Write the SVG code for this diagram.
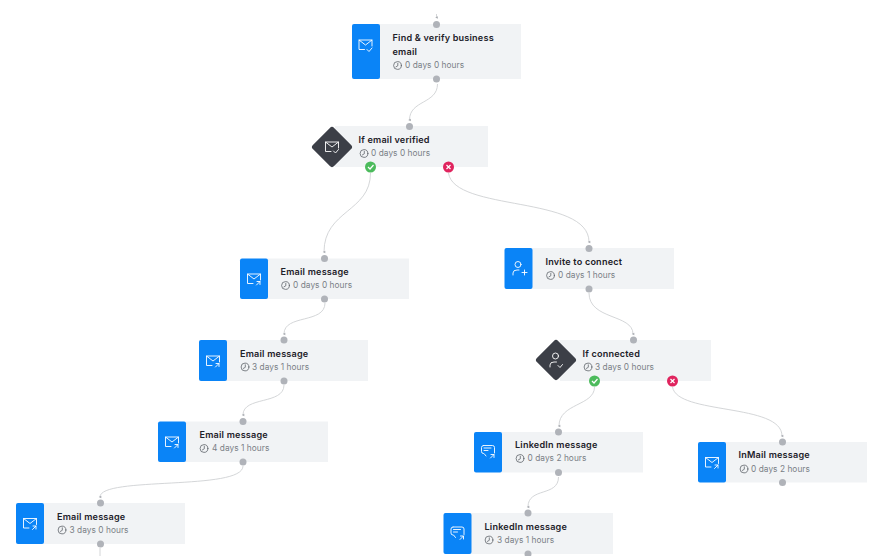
<svg xmlns="http://www.w3.org/2000/svg" xmlns:xlink="http://www.w3.org/1999/xlink" width="892" height="556" viewBox="0 0 892 556">
<style>
text{font-family:"Inter","Liberation Sans",sans-serif}
.bg{fill:#f1f3f5}
.bl{fill:#0a84f7}
.t{font-size:9.1px;font-weight:600;fill:#1d2129;letter-spacing:.2px}
.s{font-size:8.3px;fill:#7a7f86;letter-spacing:.05px}
.d{fill:#b0b3b9}
.c{fill:none;stroke:#cfd1d4;stroke-width:.9}
.i{fill:none;stroke:#fff;stroke-width:.9;stroke-linecap:round;stroke-linejoin:round}
.k{fill:none;stroke:#5f646b;stroke-width:.8;stroke-linecap:round}
</style>
<defs>
<marker id="a" viewBox="0 0 6 6" refX="3" refY="3" markerWidth="4" markerHeight="4" orient="auto-start-reverse" markerUnits="userSpaceOnUse"><path d="M1 1L3 5L5 1Z" fill="#a9acb1"/></marker>
<g id="clock" class="k"><circle cx="0" cy="0" r="3.900"/><path d="M.3-2.200V.3L-1.600 1.400"/></g>
<g id="mail"><path class="i" d="M-1-1.500H-6.500V-11H6.500V-5M-6.500-11L0-6L6.500-11"/></g>
<g id="out"><use href="#mail"/><path class="i" d="M2.500 0L6 -3.500M3 -3.500H6V-.5"/></g>
<g id="chat"><path class="i" d="M-4.500-12.500H4.500Q6.500-12.500 6.500-10.500V-5M-2-2L-4-4.500H-4.500Q-6.500-4.500-6.500-6.500V-10.500Q-6.500-12.500-4.500-12.500M-4-10H3M-4-7.500H0M2.500 0L6 -3.500M3-3.500H6V-.5"/></g>
</defs>
<g id="connectors">
<path class="c" marker-end="url(#a)" d="M436.500 14V17.500"/>
<path class="c" marker-end="url(#a)" d="M437.500 84C437.500 104 409.500 100 409.500 120"/>
<path class="c" marker-end="url(#a)" d="M370.500 173C370.500 212 324 210 324 252"/>
<path class="c" marker-end="url(#a)" d="M448.500 173C454 212 589 195 589 242"/>
<path class="c" marker-end="url(#a)" d="M325 303C325 324 284 314 284 334"/>
<path class="c" marker-end="url(#a)" d="M284 385C284 405 243 396 243 415"/>
<path class="c" marker-end="url(#a)" d="M243 466C243 491 100 476 100 497"/>
<path class="c" d="M100 548V556"/>
<path class="c" marker-end="url(#a)" d="M589 293C589 320 633 314 633 334"/>
<path class="c" marker-end="url(#a)" d="M594.500 387C594.500 406 559 403 559 426"/>
<path class="c" marker-end="url(#a)" d="M672.500 387C677 415 782 403 782 436"/>
<path class="c" marker-end="url(#a)" d="M558.500 477C558.500 497 528 487 528 507"/>
</g>
<g id="n-find"><rect class="bg" x="379" y="24" width="142" height="55"/><rect class="bl" x="352" y="24" width="28" height="55" rx="2"/><use href="#mail" x="365.500" y="51"/><path class="i" d="M367 49.500L369 51.500L372 48"/><text class="t" x="392.500" y="41">Find &amp; verify business</text><text class="t" x="392.500" y="55">email</text><use href="#clock" x="397.500" y="65.500"/><text class="s" x="405" y="68">0 days 0 hours</text><circle class="d" cx="436.500" cy="24.500" r="3.500"/><circle class="d" cx="436.500" cy="79" r="3.500"/></g>
<g id="n-if-email"><rect class="bg" x="335" y="126" width="153" height="41"/><rect x="317" y="132" width="30" height="30" rx="3" fill="#3c3f47" transform="rotate(45 332 147)"/><use href="#mail" x="332" y="153"/><path class="i" d="M333.500 151L335.500 153L338.500 149.500"/><text class="t" x="358.500" y="143">If email verified</text><use href="#clock" x="364" y="153.500"/><text class="s" x="371" y="156">0 days 0 hours</text><circle class="d" cx="409.500" cy="126.500" r="3.500"/><circle cx="370.500" cy="167" r="5.500" fill="#4cbb5c"/><path d="M368 167L370 169L373.500 165" fill="none" stroke="#fff" stroke-width="1.200"/><circle cx="448.500" cy="167" r="5.500" fill="#e0245e"/><path d="M446.500 165L450.500 169M450.500 165L446.500 169" fill="none" stroke="#fff" stroke-width="1.200"/></g>
<g id="n-email1"><rect class="bg" x="266" y="258.500" width="143" height="40.500"/><rect class="bl" x="240" y="258.500" width="28" height="40.500" rx="2"/><use href="#out" x="254" y="285"/><text class="t" x="280.500" y="275">Email message</text><use href="#clock" x="285.500" y="285.500"/><text class="s" x="293" y="288">0 days 0 hours</text><circle class="d" cx="324.500" cy="258.500" r="3.500"/><circle class="d" cx="324.500" cy="299" r="3.500"/></g>
<g id="n-email2"><rect class="bg" x="225" y="340" width="143" height="41"/><rect class="bl" x="199" y="340" width="28" height="41" rx="2"/><use href="#out" x="213" y="367"/><text class="t" x="240" y="357">Email message</text><use href="#clock" x="245" y="367"/><text class="s" x="252" y="370">3 days 1 hours</text><circle class="d" cx="284" cy="340" r="3.500"/><circle class="d" cx="284" cy="381" r="3.500"/></g>
<g id="n-email3"><rect class="bg" x="184" y="421.500" width="144" height="40.500"/><rect class="bl" x="158" y="421.500" width="28" height="40.500" rx="2"/><use href="#out" x="172" y="448"/><text class="t" x="199.500" y="438">Email message</text><use href="#clock" x="204" y="448.500"/><text class="s" x="212" y="451">4 days 1 hours</text><circle class="d" cx="243" cy="421.500" r="3.500"/><circle class="d" cx="243" cy="462" r="3.500"/></g>
<g id="n-email4"><rect class="bg" x="42" y="503" width="143" height="41"/><rect class="bl" x="16" y="503" width="28" height="41" rx="2"/><use href="#out" x="30" y="529.500"/><text class="t" x="57" y="520">Email message</text><use href="#clock" x="62" y="530"/><text class="s" x="69.500" y="533">3 days 0 hours</text><circle class="d" cx="100.500" cy="503" r="3.500"/><circle class="d" cx="100.500" cy="544" r="3.500"/></g>
<g id="n-invite"><rect class="bg" x="530" y="248" width="144" height="41"/><rect class="bl" x="504.500" y="248" width="28" height="41" rx="2"/><circle class="i" cx="518" cy="264.500" r="3"/><path class="i" d="M513 275V273Q513 270 517 270H519M522 272.500H527M524.500 270V275"/><text class="t" x="545.500" y="265">Invite to connect</text><use href="#clock" x="550.500" y="275.500"/><text class="s" x="558" y="278">0 days 1 hours</text><circle class="d" cx="589" cy="248.500" r="3.500"/><circle class="d" cx="589" cy="289" r="3.500"/></g>
<g id="n-if-connected"><rect class="bg" x="560" y="340" width="151" height="41"/><rect x="541" y="345" width="30" height="30" rx="3" fill="#3c3f47" transform="rotate(45 556 360)"/><circle class="i" cx="555.500" cy="356" r="3"/><path class="i" d="M550 367V365Q550 362 554 362H556.500M558 365.500L560 367.500L562.500 364.500"/><text class="t" x="582.500" y="357">If connected</text><use href="#clock" x="588" y="367"/><text class="s" x="595" y="370">3 days 0 hours</text><circle class="d" cx="633.500" cy="340" r="3.500"/><circle cx="594.500" cy="381" r="5.500" fill="#4cbb5c"/><path d="M592 381L594 383L597.500 379" fill="none" stroke="#fff" stroke-width="1.200"/><circle cx="672.500" cy="381" r="5.500" fill="#e0245e"/><path d="M670.500 379L674.500 383M674.500 379L670.500 383" fill="none" stroke="#fff" stroke-width="1.200"/></g>
<g id="n-linkedin1"><rect class="bg" x="500" y="432" width="143" height="40.500"/><rect class="bl" x="474" y="432" width="28" height="40.500" rx="2"/><use href="#chat" x="488" y="458"/><text class="t" x="515" y="448">LinkedIn message</text><use href="#clock" x="520" y="458.500"/><text class="s" x="527.500" y="461">0 days 2 hours</text><circle class="d" cx="558.500" cy="432" r="3.500"/><circle class="d" cx="558.500" cy="472.500" r="3.500"/></g>
<g id="n-linkedin2"><rect class="bg" x="470" y="513" width="143" height="41"/><rect class="bl" x="443.500" y="513" width="28" height="41" rx="2"/><use href="#chat" x="457.500" y="539.500"/><text class="t" x="484.500" y="530">LinkedIn message</text><use href="#clock" x="489" y="540"/><text class="s" x="497" y="543">3 days 1 hours</text><circle class="d" cx="528" cy="513" r="3.500"/><circle class="d" cx="528" cy="554" r="3.500"/></g>
<g id="n-inmail"><rect class="bg" x="724" y="442" width="143" height="40.500"/><rect class="bl" x="698" y="442" width="28" height="40.500" rx="2"/><use href="#out" x="712" y="468.500"/><text class="t" x="738.500" y="458">InMail message</text><use href="#clock" x="744" y="469"/><text class="s" x="751" y="472">0 days 2 hours</text><circle class="d" cx="782.500" cy="442" r="3.500"/><circle class="d" cx="782.500" cy="482.500" r="3.500"/></g>
</svg>
